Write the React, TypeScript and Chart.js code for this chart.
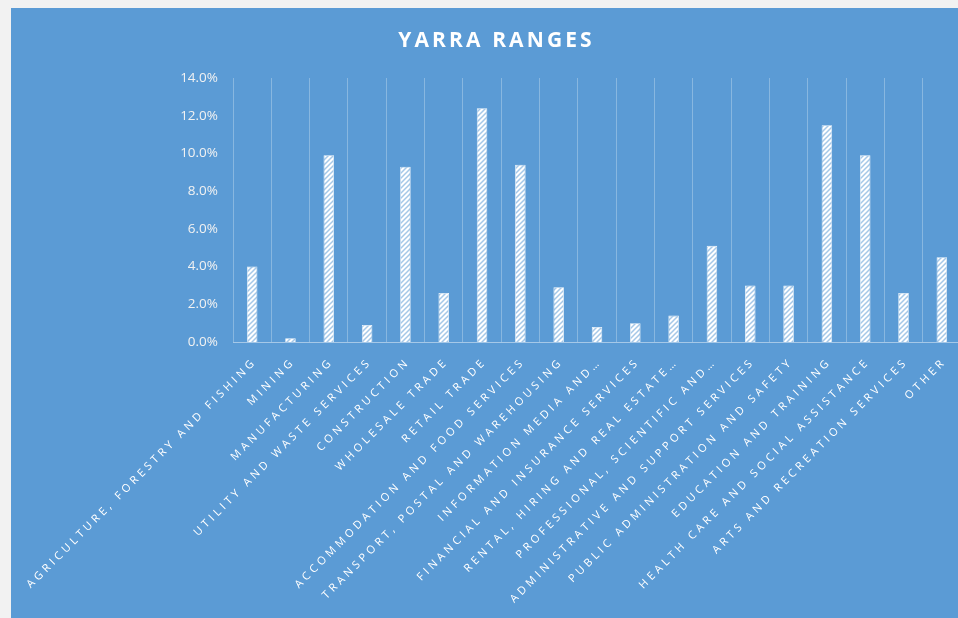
import React, { useEffect, useRef } from "react";
import { Chart, registerables } from "chart.js";

Chart.register(...registerables);

const TITLE = "YARRA RANGES";

const categories: string[] = [
  "AGRICULTURE, FORESTRY AND FISHING",
  "MINING",
  "MANUFACTURING",
  "UTILITY AND WASTE SERVICES",
  "CONSTRUCTION",
  "WHOLESALE TRADE",
  "RETAIL TRADE",
  "ACCOMMODATION AND FOOD SERVICES",
  "TRANSPORT, POSTAL AND WAREHOUSING",
  "INFORMATION MEDIA AND…",
  "FINANCIAL AND INSURANCE SERVICES",
  "RENTAL, HIRING AND REAL ESTATE…",
  "PROFESSIONAL, SCIENTIFIC AND…",
  "ADMINISTRATIVE AND SUPPORT SERVICES",
  "PUBLIC ADMINISTRATION AND SAFETY",
  "EDUCATION AND TRAINING",
  "HEALTH CARE AND SOCIAL ASSISTANCE",
  "ARTS AND RECREATION SERVICES",
  "OTHER",
];

const shares: number[] = [
  4.0, 0.2, 9.9, 0.9, 9.3, 2.6, 12.4, 9.4, 2.9, 0.8, 1.0, 1.4, 5.1, 3.0, 3.0,
  11.5, 9.9, 2.6, 4.5,
];

const yMin = 0;
const yMax = 14;
const yStep = 2;

const BG = "#5b9bd5";

function makePattern(): CanvasPattern | string {
  const s = 5;
  const c = document.createElement("canvas");
  c.width = s;
  c.height = s;
  const g = c.getContext("2d");
  if (!g) return "#ffffff";
  g.fillStyle = "#ffffff";
  g.fillRect(0, 0, s, s);
  g.strokeStyle = "rgba(91,155,213,0.55)";
  g.lineWidth = 1.5;
  g.beginPath();
  for (let k = -1; k <= 1; k++) {
    g.moveTo(-1 + k * s, s + 1);
    g.lineTo(s + 1 + k * s, -1);
  }
  g.stroke();
  const p = g.createPattern(c, "repeat");
  return p || "#ffffff";
}

const decorPlugin = {
  id: "decor",
  afterDraw(chart: any) {
    const { ctx, chartArea, scales } = chart;
    const x = scales.x;
    // title
    ctx.save();
    ctx.font = 'bold 21px "Open Sans"';
    ctx.fillStyle = "#ffffff";
    (ctx as any).letterSpacing = "3.1px";
    ctx.textAlign = "center";
    ctx.textBaseline = "alphabetic";
    ctx.fillText(TITLE, chart.width / 2 + 0.5, 39);
    ctx.restore();

    // category labels
    ctx.save();
    ctx.font = '11px "Open Sans"';
    ctx.fillStyle = "#ffffff";
    (ctx as any).letterSpacing = "3.6px";
    ctx.textAlign = "right";
    ctx.textBaseline = "top";
    categories.forEach((label, i) => {
      const px = x.getPixelForValue(i);
      ctx.save();
      ctx.translate(px - 1, chartArea.bottom + 14);
      ctx.rotate(-Math.PI / 4);
      ctx.fillText(label, 0, 0);
      ctx.restore();
    });
    ctx.restore();
  },
};

export default function App() {
  const ref = useRef<HTMLCanvasElement | null>(null);

  useEffect(() => {
    if (!ref.current) return;
    Chart.defaults.font.family = '"Open Sans", sans-serif';
    const chart = new Chart(ref.current, {
      type: "bar",
      data: {
        labels: categories,
        datasets: [
          {
            data: shares,
            backgroundColor: makePattern() as any,
            borderColor: "rgba(255,255,255,0.95)",
            borderWidth: 0.8,
            barPercentage: 0.275,
            categoryPercentage: 1,
          },
        ],
      },
      options: {
        animation: false,
        responsive: false,
        layout: { padding: { left: 0, right: 20, top: 70, bottom: 276 } },
        plugins: {
          legend: { display: false },
          title: { display: false },
          tooltip: { enabled: false },
        },
        scales: {
          x: {
            grid: {
              display: true,
              color: "rgba(255,255,255,0.28)",
              lineWidth: 1,
              drawTicks: false,
              offset: true,
            },
            border: { display: true, color: "rgba(255,255,255,0.45)", width: 1 },
            ticks: { display: false },
          },
          y: {
            min: yMin,
            max: yMax,
            afterFit(scale: any) {
              scale.width = 222;
            },
            grid: { display: false, drawTicks: false },
            border: { display: false },
            ticks: {
              stepSize: yStep,
              padding: 15,
              color: "#f2f2f2",
              font: { size: 13.5 },
              callback: (v: any) => Number(v).toFixed(1) + "%",
            },
          },
        },
      },
      plugins: [decorPlugin],
    });
    return () => chart.destroy();
  }, []);

  return (
    <div
      style={{
        position: "fixed",
        inset: 0,
        background: "#f2f2f2",
        overflow: "hidden",
      }}
    >
      <div
        style={{
          position: "absolute",
          left: 11,
          top: 8,
          width: 970,
          height: 610,
          background: BG,
        }}
      >
        <canvas
          ref={ref}
          width={970}
          height={610}
          style={{ display: "block", width: 970, height: 610 }}
        />
      </div>
    </div>
  );
}
